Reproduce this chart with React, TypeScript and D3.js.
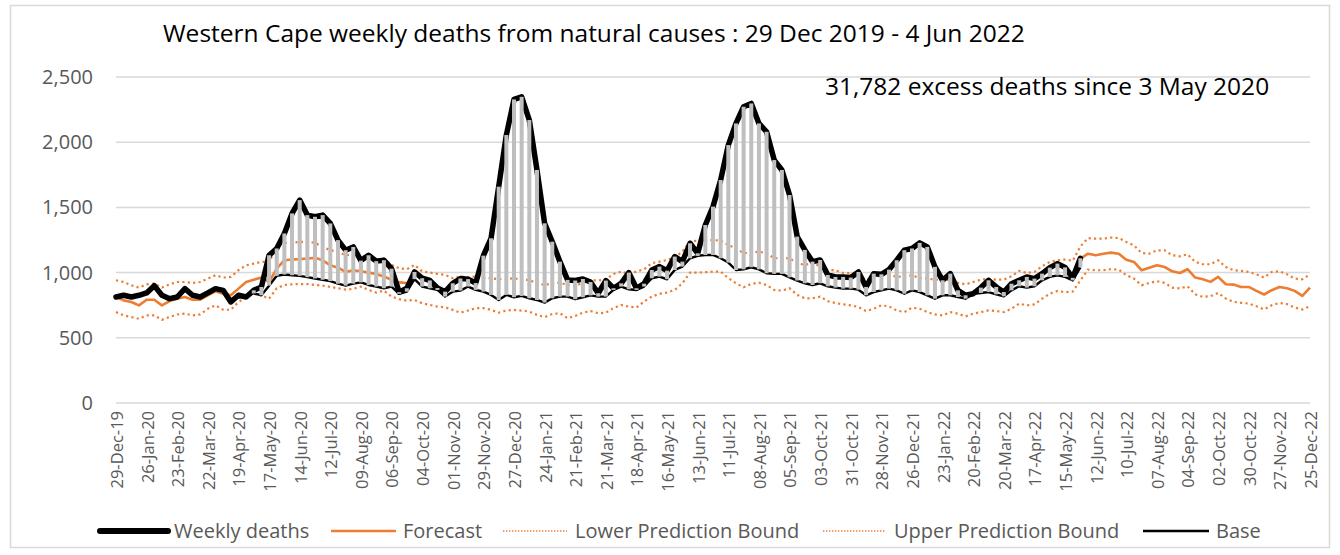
import React, { useEffect, useRef } from "react";
import * as d3 from "d3";

// weekly deaths from natural causes, week 0 = 29-Dec-19 (last reported week = index 126)
const weeklyDeaths = [
  813, 826, 813, 826, 844, 900, 826, 800, 813, 877, 826, 813, 844, 877, 864, 775, 826, 813, 864, 890,
  1133, 1185, 1300, 1454, 1556, 1441, 1428, 1441, 1377, 1249, 1172, 1197, 1092, 1133, 1088, 1095, 1030, 850, 880, 1005,
  957, 940, 882, 854, 918, 955, 950, 920, 1130, 1263, 1659, 2055, 2328, 2348, 2170, 1787, 1378, 1237, 1084, 944,
  939, 951, 928, 842, 939, 880, 918, 1000, 880, 915, 1020, 1046, 1015, 1123, 1084, 1225, 1148, 1365, 1506, 1710,
  1978, 2144, 2272, 2297, 2144, 2080, 1863, 1787, 1595, 1276, 1174, 1084, 1097, 982, 967, 967, 962, 1005, 890, 992,
  987, 1023, 1095, 1172, 1185, 1228, 1197, 1044, 941, 992, 864, 826, 838, 885, 941, 890, 851, 915, 941, 967,
  954, 992, 1038, 1069, 1040, 960, 1110,
];

// forecast is only visible before Sep 2020 and after the last reported week
const forecastEarlyStart = 0;
const forecastEarly = [
  813, 787, 774, 749, 792, 792, 749, 782, 800, 813, 792, 792, 826, 856, 838, 826, 877, 928, 946, 962,
  928, 1031, 1095, 1100, 1103, 1108, 1113, 1095, 1056, 1038, 1005, 1018, 1010, 1000, 990, 970, 945, 925, 920,
];
const forecastLateStart = 126;
const forecastLate = [
  1107, 1145, 1133, 1145, 1153, 1145, 1099, 1082, 1018, 1038, 1056, 1043, 1010, 997, 1026, 962, 949, 929, 967, 911,
  908, 890, 890, 860, 832, 865, 890, 880, 860, 821, 885,
];

const upperBound = [
  941, 928, 903, 885, 910, 915, 885, 910, 928, 928, 920, 928, 954, 980, 962, 967, 1018, 1056, 1069, 1082,
  1082, 1197, 1228, 1228, 1236, 1236, 1228, 1197, 1172, 1159, 1133, 1140, 1135, 1110, 1097, 1110, 1059, 1033, 1025, 1059,
  1008, 1000, 990, 982, 957, 970, 964, 970, 957, 957, 949, 949, 957, 944, 944, 918, 905, 918, 923, 905,
  898, 923, 942, 939, 949, 990, 1008, 990, 1008, 1026, 1072, 1084, 1097, 1117, 1161, 1238, 1245, 1245, 1250, 1245,
  1212, 1186, 1148, 1153, 1161, 1148, 1110, 1110, 1110, 1072, 1059, 1072, 1051, 1020, 1018, 997, 997, 979, 946, 962,
  979, 987, 967, 972, 979, 959, 954, 946, 946, 941, 921, 910, 928, 946, 954, 946, 946, 972, 1013, 997,
  1005, 1049, 1082, 1095, 1100, 1090, 1200, 1265, 1260, 1260, 1268, 1265, 1235, 1209, 1150, 1145, 1171, 1171, 1133, 1125,
  1140, 1082, 1064, 1064, 1094, 1043, 1018, 1013, 1005, 987, 962, 1005, 1010, 987, 954, 949, 987,
];

const lowerBound = [
  697, 672, 659, 646, 672, 672, 638, 659, 679, 685, 672, 679, 723, 749, 715, 715, 774, 813, 838, 826,
  800, 880, 905, 910, 912, 912, 905, 900, 890, 880, 870, 875, 893, 867, 847, 862, 816, 796, 785, 790,
  765, 752, 739, 734, 714, 693, 709, 727, 727, 714, 693, 709, 714, 709, 701, 676, 658, 683, 688, 650,
  668, 693, 705, 688, 693, 727, 752, 739, 732, 778, 816, 837, 847, 867, 918, 1000, 1000, 1003, 1008, 1008,
  957, 918, 888, 913, 923, 905, 867, 862, 880, 829, 803, 803, 816, 780, 767, 756, 749, 736, 705, 723,
  749, 741, 710, 697, 731, 723, 697, 679, 672, 697, 685, 664, 685, 697, 710, 705, 697, 723, 762, 749,
  756, 800, 838, 859, 850, 855, 940, 1023, 1018, 1018, 1026, 1023, 980, 954, 903, 921, 934, 921, 885, 878,
  895, 834, 814, 819, 844, 801, 776, 768, 763, 742, 717, 750, 768, 758, 732, 717, 742,
];

// base under the excess-death bars, starts 3 May 2020 (index 18)
const baseStart = 18;
const base = [
  840, 826, 900, 975, 985, 980, 975, 965, 955, 945, 935, 915, 900, 915, 925, 905, 893, 880, 893, 837,
  854, 950, 893, 880, 867, 816, 854, 862, 893, 867, 854, 829, 790, 829, 811, 821, 803, 790, 770, 803,
  816, 816, 796, 811, 825, 816, 816, 867, 893, 872, 867, 893, 957, 969, 949, 1020, 1046, 1110, 1128, 1135,
  1135, 1110, 1077, 1020, 1025, 1041, 1025, 995, 990, 990, 964, 939, 918, 905, 918, 895, 885, 877, 877, 869,
  826, 851, 864, 877, 864, 838, 864, 851, 826, 800, 826, 826, 813, 800, 838, 844, 851, 833, 818, 864,
  895, 885, 895, 941, 967, 979, 967, 940, 1040,
];

const tickLabels = [
  "29-Dec-19", "26-Jan-20", "23-Feb-20", "22-Mar-20", "19-Apr-20", "17-May-20", "14-Jun-20", "12-Jul-20",
  "09-Aug-20", "06-Sep-20", "04-Oct-20", "01-Nov-20", "29-Nov-20", "27-Dec-20", "24-Jan-21", "21-Feb-21",
  "21-Mar-21", "18-Apr-21", "16-May-21", "13-Jun-21", "11-Jul-21", "08-Aug-21", "05-Sep-21", "03-Oct-21",
  "31-Oct-21", "28-Nov-21", "26-Dec-21", "23-Jan-22", "20-Feb-22", "20-Mar-22", "17-Apr-22", "15-May-22",
  "12-Jun-22", "10-Jul-22", "07-Aug-22", "04-Sep-22", "02-Oct-22", "30-Oct-22", "27-Nov-22", "25-Dec-22",
];
const yTicks = [0, 500, 1000, 1500, 2000, 2500];

const ORANGE = "#ED7D31";
const FONT = "'Open Sans', sans-serif";

export default function App() {
  const ref = useRef<SVGSVGElement>(null);

  useEffect(() => {
    const svg = d3.select(ref.current);
    svg.selectAll("*").remove();

    const nWeeks = upperBound.length;
    const x = d3.scaleLinear().domain([0, nWeeks - 1]).range([116, 1310]);
    const y = d3.scaleLinear().domain([0, 2500]).range([403, 77]);

    // outer chart frame
    svg.append("rect")
      .attr("x", 10.5).attr("y", 5.5)
      .attr("width", 1319).attr("height", 542)
      .attr("fill", "#fff").attr("stroke", "#D9D9D9").attr("stroke-width", 1.5);

    // gridlines
    svg.append("g").selectAll("line")
      .data(yTicks).enter().append("line")
      .attr("x1", 116).attr("x2", 1310)
      .attr("y1", d => y(d)).attr("y2", d => y(d))
      .attr("stroke", "#D9D9D9").attr("stroke-width", 1.5);

    // y axis labels
    const yAxis = d3.axisLeft(y).tickValues(yTicks).tickSize(0).tickPadding(23)
      .tickFormat(d => d3.format(",")(d as number));
    const gy = svg.append("g").attr("transform", "translate(116,0)").call(yAxis);
    gy.select(".domain").remove();
    gy.selectAll("text")
      .style("font-family", FONT).style("font-size", "20px").attr("fill", "#595959");

    // x axis labels, rotated
    svg.append("g").selectAll("text")
      .data(tickLabels).enter().append("text")
      .attr("transform", (d, i) => `translate(${x(i * 4) + 1},411) rotate(-90)`)
      .attr("text-anchor", "end")
      .attr("dy", "0.36em")
      .style("font-family", FONT).style("font-size", "16.5px")
      .attr("fill", "#595959")
      .text(d => d);

    const path = (vals: number[], start: number) =>
      d3.line<number>().x((d, i) => x(i + start)).y(d => y(d))(vals);

    // prediction bounds (dotted)
    [upperBound, lowerBound].forEach(b => {
      svg.append("path")
        .attr("d", path(b, 0))
        .attr("fill", "none").attr("stroke", ORANGE)
        .attr("stroke-width", 2.2).attr("stroke-dasharray", "2.2 3.2");
    });

    // forecast
    [[forecastEarly, forecastEarlyStart], [forecastLate, forecastLateStart]].forEach(([vals, s]) => {
      svg.append("path")
        .attr("d", path(vals as number[], s as number))
        .attr("fill", "none").attr("stroke", ORANGE)
        .attr("stroke-width", 2.6).attr("stroke-linejoin", "round");
    });

    // weekly deaths
    svg.append("path")
      .attr("d", path(weeklyDeaths, 0))
      .attr("fill", "none").attr("stroke", "#000")
      .attr("stroke-width", 5.5).attr("stroke-linejoin", "round").attr("stroke-linecap", "round");

    // base
    svg.append("path")
      .attr("d", path(base, baseStart))
      .attr("fill", "none").attr("stroke", "#000")
      .attr("stroke-width", 2.4).attr("stroke-linejoin", "round");

    // excess bars between base and weekly deaths
    svg.append("g").selectAll("rect")
      .data(base).enter().append("rect")
      .attr("x", (d, i) => x(i + baseStart) - 2)
      .attr("width", 4)
      .attr("y", (d, i) => y(Math.max(d, weeklyDeaths[i + baseStart])))
      .attr("height", (d, i) => Math.abs(y(d) - y(weeklyDeaths[i + baseStart])))
      .attr("fill", "#BFBFBF");

    // title and annotation
    svg.append("text")
      .attr("x", 163).attr("y", 42)
      .style("font-family", FONT).style("font-size", "24.5px").attr("fill", "#000")
      .text("Western Cape weekly deaths from natural causes : 29 Dec 2019 - 4 Jun 2022");
    svg.append("text")
      .attr("x", 825).attr("y", 95)
      .style("font-family", FONT).style("font-size", "24.5px").attr("fill", "#000")
      .text("31,782 excess deaths since 3 May 2020");

    // legend
    const legend = [
      { label: "Weekly deaths", x0: 100, x1: 168, tx: 174, color: "#000", w: 6, dash: "", cap: "round" },
      { label: "Forecast", x0: 331, x1: 396, tx: 403, color: ORANGE, w: 2.6, dash: "", cap: "butt" },
      { label: "Lower Prediction Bound", x0: 503, x1: 567, tx: 575, color: ORANGE, w: 1.4, dash: "1.4 1.6", cap: "butt" },
      { label: "Upper Prediction Bound", x0: 823, x1: 886, tx: 894, color: ORANGE, w: 1.4, dash: "1.4 1.6", cap: "butt" },
      { label: "Base", x0: 1143, x1: 1209, tx: 1216, color: "#000", w: 2.6, dash: "", cap: "butt" },
    ];
    const lg = svg.append("g").selectAll("g").data(legend).enter().append("g");
    lg.append("line")
      .attr("x1", d => d.x0).attr("x2", d => d.x1)
      .attr("y1", 531).attr("y2", 531)
      .attr("stroke", d => d.color).attr("stroke-width", d => d.w)
      .attr("stroke-dasharray", d => d.dash).attr("stroke-linecap", d => d.cap);
    lg.append("text")
      .attr("x", d => d.tx).attr("y", 531).attr("dy", "0.36em")
      .style("font-family", FONT).style("font-size", "20px").attr("fill", "#595959")
      .text(d => d.label);
  }, []);

  return (
    <svg
      ref={ref}
      width={1340}
      height={555}
      style={{ position: "absolute", left: 0, top: 0, background: "#fff" }}
    />
  );
}
